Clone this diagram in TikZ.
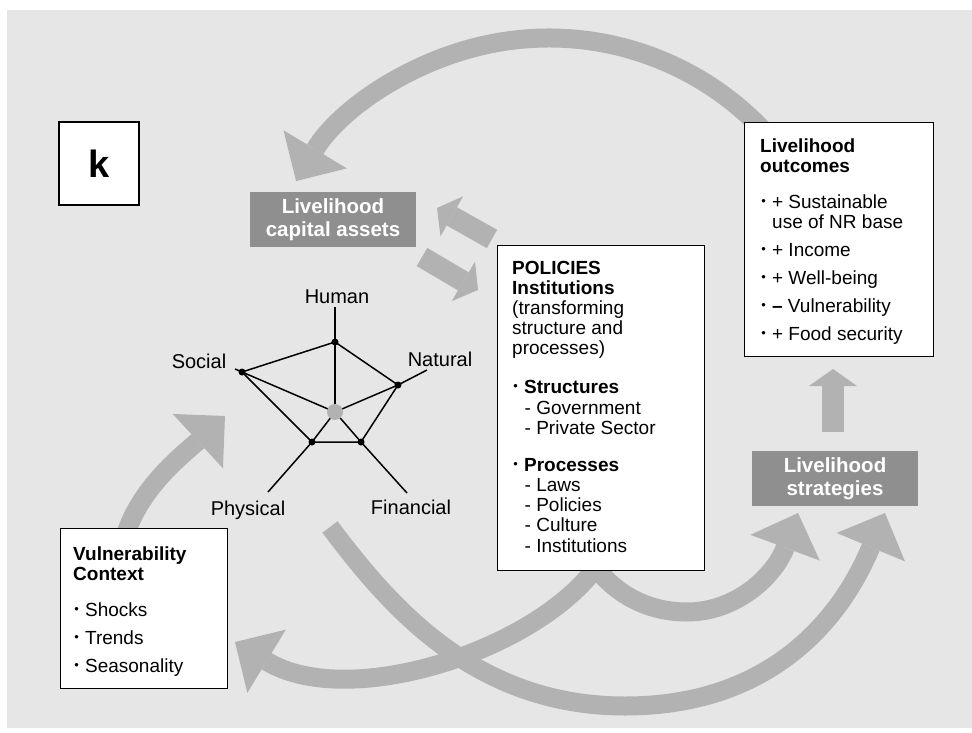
\documentclass[tikz,border=0pt]{standalone}
\usepackage{fontspec}
\usepackage{graphicx}
\setmainfont{Liberation Sans}
\usetikzlibrary{arrows.meta}
\pgfdeclarelayer{bottom}
\pgfdeclarelayer{arrows}
\pgfsetlayers{bottom,arrows,main}
\definecolor{bgc}{RGB}{230,230,230}
\definecolor{arrc}{RGB}{178,178,178}
\definecolor{darkbox}{RGB}{143,143,143}
\newcommand{\smbul}{\makebox[6.65pt][c]{\raisebox{3pt}{\scalebox{0.68}{•}}}}
\begin{document}
\begin{tikzpicture}[x=1pt,y=1pt,
  txt/.style={font=\fontsize{19}{20}\selectfont, inner sep=0pt, anchor=north west, align=left},
  wbox/.style={draw=black, fill=white, line width=1.2pt, inner sep=0pt, anchor=north west},
  gbox/.style={fill=darkbox, text=white, font=\bfseries\fontsize{20.5}{23}\selectfont, align=center, inner sep=0pt, minimum width=166pt, minimum height=55pt},
  bigarr/.style={draw=arrc, line width=19pt, -{Triangle[length=37pt,width=74pt,line width=0pt]}},
  smallarr/.style={draw=arrc, line width=21pt, -{Triangle[length=17pt,width=46pt,line width=0pt]}},
  uparr/.style={draw=arrc, line width=22pt, -{Triangle[length=17pt,width=48pt,line width=0pt]}},
  lab/.style={font=\fontsize{20}{22}\selectfont, inner sep=0pt, anchor=base},
  spk/.style={line width=1.5pt, draw=black},
  sdot/.style={circle, fill=black, inner sep=0pt, minimum size=7pt},
  hub/.style={circle, fill=arrc, inner sep=0pt, minimum size=16pt}
]
\useasboundingbox (0,0) rectangle (972,-733);
\begin{pgfonlayer}{bottom}
\fill[bgc] (7,-10) rectangle (972,-728);
\end{pgfonlayer}

% boxes
\node[wbox, anchor=center, minimum width=80pt, minimum height=83pt, font=\bfseries\fontsize{38}{40}\selectfont] (kbox) at (99,-163.5) {k};
\node[gbox] (assets) at (333,-219.5) {Livelihood\\capital assets};
\node[gbox] (strat) at (835,-478.5) {Livelihood\\strategies};

\node[wbox, minimum width=189pt, minimum height=234pt] (outc) at (744,-122) {};
\node[txt] (outctext) at (760,-137) {\rule{0pt}{15pt}\textbf{Livelihood}\\
\textbf{outcomes}\\[16pt]
\smbul{} + Sustainable\\
\hspace*{12pt}use of NR base\\[8pt]
\smbul{} + Income\\[8pt]
\smbul{} + Well-being\\[8pt]
\smbul{} \textbf{–} Vulnerability\\[8pt]
\smbul{} + Food security};

\node[wbox, minimum width=207pt, minimum height=325pt] (pol) at (497,-245) {};
\node[txt] (poltext) at (512,-259) {\rule{0pt}{15pt}\textbf{POLICIES}\\
\textbf{Institutions}\\
(transforming\\
structure and\\
processes)\\[19pt]
\smbul{} \textbf{Structures}\\[1pt]
\hspace*{12.5pt}- Government\\
\hspace*{12.5pt}- Private Sector\\[17pt]
\smbul{} \textbf{Processes}\\
\hspace*{12.5pt}- Laws\\
\hspace*{12.5pt}- Policies\\
\hspace*{12.5pt}- Culture\\[1pt]
\hspace*{12.5pt}- Institutions};

\node[wbox, minimum width=167pt, minimum height=160pt] (vuln) at (60,-528) {};
\node[txt] (vulntext) at (73,-545) {\rule{0pt}{15pt}\textbf{Vulnerability}\\
\textbf{Context}\\[16pt]
\smbul{} Shocks\\[8pt]
\smbul{} Trends\\[8pt]
\smbul{} Seasonality};

% asset pentagon
\node[hub] (C) at (335,-412) {};
\node[sdot] (H) at (335,-342) {};
\node[sdot] (N) at (398,-385) {};
\node[sdot] (S) at (242,-372) {};
\node[sdot] (P) at (312,-442) {};
\node[sdot] (F) at (361,-442) {};
\coordinate (Htop) at (335,-307);
\coordinate (Nend) at (427,-370);
\coordinate (Send) at (235,-369);
\coordinate (Pend) at (268,-492);
\coordinate (Fend) at (407,-493);

\node[lab] (lhum) at (337,-303) {Human};
\node[lab] (lsoc) at (199,-368) {Social};
\node[lab] (lnat) at (440,-366) {Natural};
\node[lab] (lphy) at (248,-515) {Physical};
\node[lab] (lfin) at (411,-514) {Financial};

% arrow end points
\coordinate (topst) at (768.2,-135.6);
\coordinate (vst) at (124,-540);
\coordinate (vtip) at (225,-416);
\coordinate (pst1) at (601,-560);
\coordinate (vtip2) at (235,-642);
\coordinate (pst2) at (590,-560);
\coordinate (ubot) at (687,-612);
\coordinate (stip1) at (798,-513);
\coordinate (lst) at (330,-527);
\coordinate (lbot) at (625,-706);
\coordinate (stip2) at (885,-513);
\coordinate (upst) at (833,-432);
\coordinate (uptip) at (833,-369);
\coordinate (sa1) at (492,-239);
\coordinate (sa1tip) at (437,-208);
\coordinate (sa2) at (422,-257);
\coordinate (sa2tip) at (478,-290);

\begin{pgfonlayer}{arrows}
\draw[bigarr] (topst) arc[start angle=42, end angle=149, radius=295];
\draw[bigarr] (vst) .. controls (138,-488) and (185,-453) .. (vtip);
\draw[bigarr] (pst1) .. controls (545,-648) and (350,-712) .. (vtip2);
\draw[bigarr] (pst2) .. controls (612,-592) and (645,-612) .. (ubot) .. controls (737,-612) and (775,-575) .. (stip1);
\draw[bigarr] (lst) .. controls (390,-607) and (475,-706) .. (lbot) .. controls (775,-706) and (843,-614) .. (stip2);
\draw[uparr] (upst) -- (uptip);
\draw[smallarr] (sa1) -- (sa1tip);
\draw[smallarr] (sa2) -- (sa2tip);
% spokes and rim
\draw[spk] (Htop) -- (C.center);
\draw[spk] (Send) -- (C.center);
\draw[spk] (Nend) -- (N.center) -- (C.center);
\draw[spk] (Pend) -- (P.center) -- (C.center);
\draw[spk] (Fend) -- (F.center) -- (C.center);
\draw[spk] (H.center) -- (N.center) -- (F.center) -- (P.center) -- (S.center) -- cycle;
\end{pgfonlayer}
\end{tikzpicture}
\end{document}
